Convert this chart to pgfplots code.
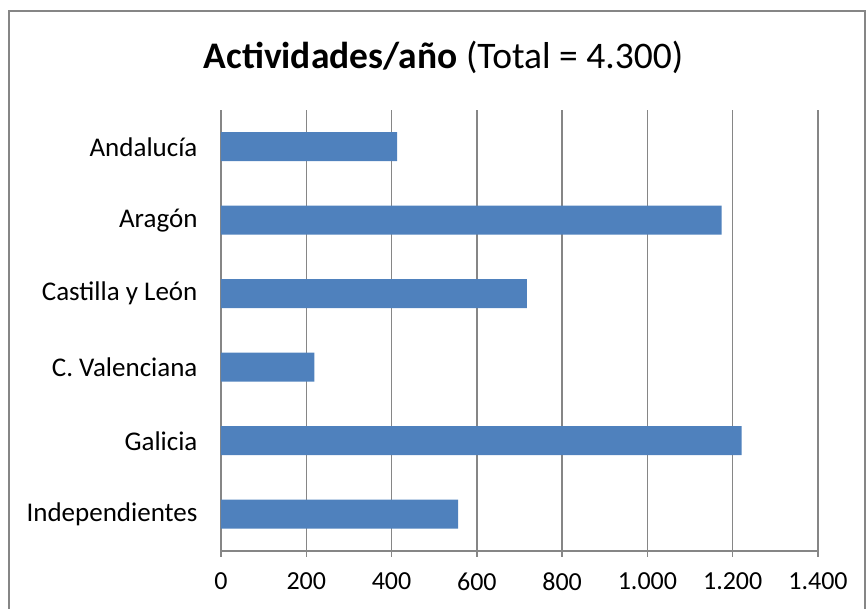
\documentclass[border=0pt]{standalone}
\usepackage{fontspec}
\setmainfont{Carlito}
\usepackage{pgfplots}
\pgfplotsset{compat=1.18}
\definecolor{BarBlue}{RGB}{79,129,189}
\definecolor{GridGray}{RGB}{134,134,134}
\begin{document}
\begin{tikzpicture}
  \useasboundingbox (0pt,0pt) rectangle (868pt,609pt);
  \draw[GridGray, line width=1.5pt] (9pt,-5pt) -- (9pt,598pt) -- (865pt,598pt) -- (865pt,-5pt);
  \node[font=\fontsize{37.5}{44}\selectfont] at (443.5pt,552pt)
    {\textbf{Actividades/año} (Total = 4.300)};
  \begin{axis}[
    at={(221pt,58pt)}, anchor=south west,
    scale only axis, width=597pt, height=441pt,
    xbar, bar width=29pt,
    xmin=0, xmax=1400, ymin=-0.5, ymax=5.5,
    xtick={0,200,...,1400},
    ytick={0,1,2,3,4,5},
    yticklabels={Independientes,Galicia,C. Valenciana,Castilla y León,Aragón,Andalucía},
    axis x line=bottom, axis y line=left,
    axis line style={-, GridGray, line width=1.5pt},
    xmajorgrids, grid style={GridGray, line width=1.5pt},
    tick align=outside, major tick length=6pt,
    xtick style={GridGray, line width=1.5pt},
    ytick style={draw=none},
    xticklabel style={font=\fontsize{26}{30}\selectfont, yshift=-12pt},
    yticklabel style={font=\fontsize{27}{32}\selectfont, xshift=-14pt},
    /pgf/number format/.cd, 1000 sep={.}, assume math mode=true,
  ]
    \addplot[fill=BarBlue, draw=none] coordinates {
      (556,0) (1221,1) (219,2) (717,3) (1174,4) (413,5)
    };
  \end{axis}
\end{tikzpicture}
\end{document}
